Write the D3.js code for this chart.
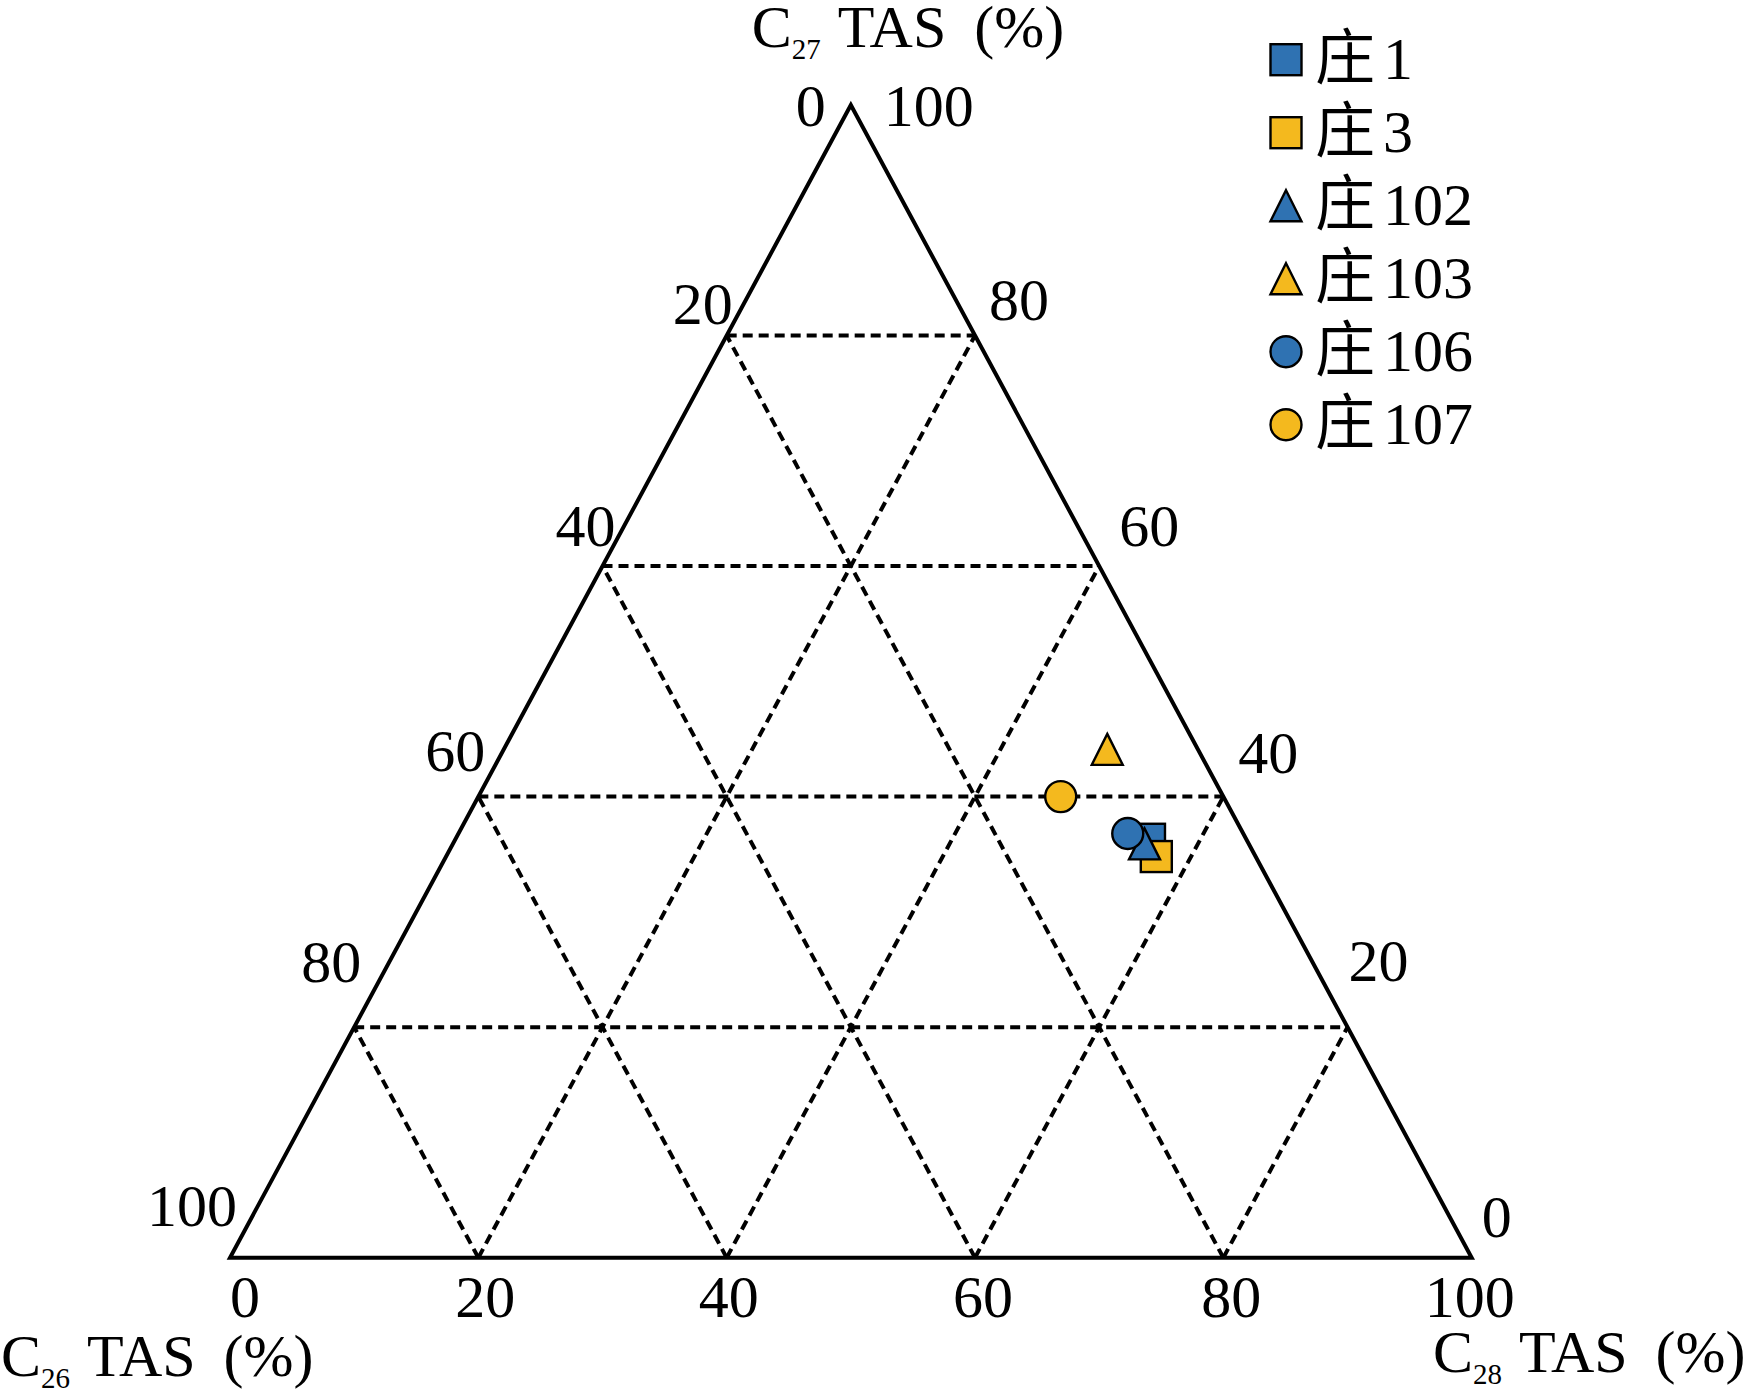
<!DOCTYPE html>
<html><head><meta charset="utf-8">
<script src="https://cdn.jsdelivr.net/npm/d3@7"></script>
<style>
html,body{margin:0;padding:0;background:#fff;}
svg{display:block;}
text{font-family:"Liberation Serif","Noto Sans CJK SC",serif;fill:#000;}
</style></head>
<body>
<svg id="chart" width="1761" height="1397"></svg>
<script>
// ---- data ----
const samples = ["庄1", "庄3", "庄102", "庄103", "庄106", "庄107"];
const c26 = [7.8, 8.0, 8.4, 7.3, 9.3, 13.1];
const c27 = [36.3, 34.8, 35.9, 44.1, 36.8, 40.0];
const c28 = [55.9, 57.2, 55.7, 48.6, 53.9, 46.9];
const shapes = ["square", "square", "triangle", "triangle", "circle", "circle"];
const colorKeys = ["blue", "yellow", "blue", "yellow", "blue", "yellow"];
const ticks = [0, 20, 40, 60, 80, 100];
const gridLevels = [20, 40, 60, 80];

// ---- layout ----
const palette = {blue: "#2f72b2", yellow: "#f4b91e"};
const svg = d3.select("#chart");
const xBase = d3.scaleLinear().domain([0, 100]).range([230, 1471.7]);
const yScale = d3.scaleLinear().domain([0, 100]).range([1257.7, 105]);
// ternary projection: C27 at apex, C26 bottom-left, C28 bottom-right
function proj(a26, a27, a28) {
  const s = a26 + a27 + a28;
  const p27 = a27 / s * 100, p28 = a28 / s * 100;
  return [xBase(p28 + p27 / 2), yScale(p27)];
}
const A = proj(0, 100, 0), B = proj(100, 0, 0), C = proj(0, 0, 100);

const g = svg.append("g");
const line = d3.line();
const dash = "10,6";
function gridLine(p, q) {
  g.append("path").attr("d", line([p, q]))
    .attr("fill", "none").attr("stroke", "#000").attr("stroke-width", 4).attr("stroke-dasharray", dash);
}
gridLevels.forEach(k => {
  gridLine(proj(100 - k, k, 0), proj(0, k, 100 - k));   // constant C27
  gridLine(proj(100 - k, 0, k), proj(0, 100 - k, k));   // constant C28
  gridLine(proj(k, 0, 100 - k), proj(k, 100 - k, 0));   // constant C26
});
// frame
g.append("path").attr("d", line([A, B, C]) + "Z")
  .attr("fill", "none").attr("stroke", "#000").attr("stroke-width", 4).attr("stroke-linejoin", "miter");

// tick labels
const fs = 60;
const nudgeLeft = {0: [-40, 21], 20: [-24, -12], 40: [-17, -20], 60: [-23, -26], 80: [-23, -45], 100: [-38, -32]};
const nudgeRight = {100: [78, 21], 80: [44, -16], 60: [50, -20], 40: [45, -24], 20: [31, -46], 0: [25, -21]};
const nudgeBottom = {0: [15, 59], 20: [7, 59], 40: [2, 59], 60: [8, 59], 80: [8, 59], 100: [-2, 59]};
ticks.forEach(v => {
  let p = proj(v, 100 - v, 0);
  g.append("text").attr("x", p[0] + nudgeLeft[v][0]).attr("y", p[1] + nudgeLeft[v][1])
    .attr("text-anchor", "middle").attr("font-size", fs).text(v);
  p = proj(0, v, 100 - v);
  g.append("text").attr("x", p[0] + nudgeRight[v][0]).attr("y", p[1] + nudgeRight[v][1])
    .attr("text-anchor", "middle").attr("font-size", fs).text(v);
  p = proj(100 - v, 0, v);
  g.append("text").attr("x", p[0] + nudgeBottom[v][0]).attr("y", p[1] + nudgeBottom[v][1])
    .attr("text-anchor", "middle").attr("font-size", fs).text(v);
});

// axis titles
function title(x, y, sub) {
  const t = g.append("text").attr("x", x).attr("y", y).attr("font-size", fs);
  t.append("tspan").text("C");
  t.append("tspan").attr("font-size", 29).attr("dy", 12).text(sub);
  t.append("tspan").attr("dy", -12).attr("dx", 17).text("TAS");
  t.append("tspan").attr("dx", 28).text("(%)");
}
title(751.7, 47, "27");
title(1, 1376, "26");
title(1433, 1372, "28");

// markers
const mk = 31;
function drawMarker(sel, shape, x, y, fill) {
  if (shape === "square") {
    sel.append("rect").attr("x", x - mk / 2).attr("y", y - mk / 2).attr("width", mk).attr("height", mk)
      .attr("fill", fill).attr("stroke", "#000").attr("stroke-width", 2.4);
  } else if (shape === "circle") {
    sel.append("circle").attr("cx", x).attr("cy", y).attr("r", mk / 2)
      .attr("fill", fill).attr("stroke", "#000").attr("stroke-width", 2.4);
  } else {
    const h = mk, w = mk;
    sel.append("path").attr("d", line([[x, y - h / 2], [x + w / 2, y + h / 2], [x - w / 2, y + h / 2]]) + "Z")
      .attr("fill", fill).attr("stroke", "#000").attr("stroke-width", 2.4).attr("stroke-linejoin", "miter");
  }
}
const pts = g.append("g");
samples.forEach((s, i) => {
  const p = proj(c26[i], c27[i], c28[i]);
  drawMarker(pts, shapes[i], p[0], p[1], palette[colorKeys[i]]);
});

// legend
const leg = svg.append("g");
const legY = d3.scalePoint().domain(samples).range([59.7, 424.7]);
samples.forEach((s, i) => {
  const y = legY(s);
  drawMarker(leg, shapes[i], 1286, y, palette[colorKeys[i]]);
  const t = leg.append("text").attr("x", 1315).attr("y", y + 19).attr("font-size", 60);
  t.append("tspan").text(s.slice(0, 1));
  t.append("tspan").attr("dx", 8).text(s.slice(1));
});
</script>
</body></html>
